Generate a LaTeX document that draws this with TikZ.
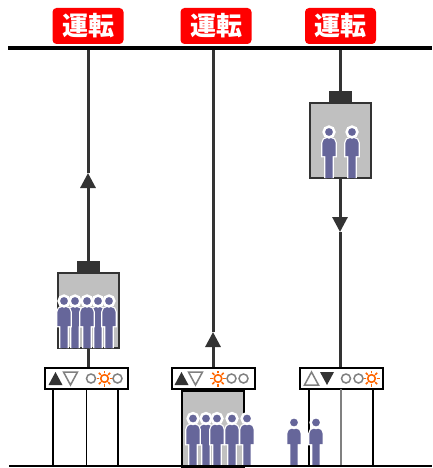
\documentclass[tikz,border=0pt]{standalone}
\usepackage{fontspec}
\newfontfamily\jpfont{Noto Sans CJK JP}
\usetikzlibrary{arrows.meta}
\definecolor{cablegray}{HTML}{333333}
\definecolor{cargray}{HTML}{C0C0C0}
\definecolor{lampgray}{HTML}{808080}
\definecolor{sunorange}{HTML}{FF6600}
\definecolor{manblue}{HTML}{66669A}
\tikzset{
  runlabel/.style = {fill=red,rounded corners=4pt,text=white,inner sep=0pt,
                     minimum width=71pt,minimum height=36pt,
                     font={\jpfont\bfseries\fontsize{26}{30}\selectfont}},
  cable/.style    = {cablegray,line width=3pt},
  dirarr/.style   = {cable,-{Triangle[length=15pt,width=15pt]}},
  car/.style      = {fill=cargray,draw=cablegray,line width=2pt,inner sep=0pt,
                     minimum width=61pt,minimum height=75pt},
  hoist/.style    = {fill=cablegray,inner sep=0pt,minimum width=23pt,minimum height=11pt},
  panelbox/.style = {fill=white,draw=black,line width=2pt,inner sep=0pt,
                     minimum width=83pt,minimum height=21pt},
  dooredge/.style = {black,line width=1.5pt},
  diron/.style    = {fill=cablegray},
  diroff/.style   = {draw=lampgray,line width=1.5pt},
  lampoff/.style  = {draw=lampgray,line width=1.5pt},
  lampon/.style   = {draw=sunorange,line width=1.6pt},
  halo/.style     = {draw=white,line width=2.5pt},
  body/.style     = {fill=manblue}
}
\newcommand{\uptri}[2]{\path[#1] (#2-7,6.5) -- (#2+7,6.5) -- (#2,-6.5) -- cycle;}
\newcommand{\downtri}[2]{\path[#1] (#2-7,-6.5) -- (#2+7,-6.5) -- (#2,6.5) -- cycle;}
\newcommand{\offlamp}[1]{\path[lampoff] (#1,0) circle[radius=4.5];}
\newcommand{\sunlamp}[1]{%
  \path[lampon] (#1,0) circle[radius=3.8];
  \foreach \a in {0,45,...,315} {\path[lampon] (#1,0) ++(\a:5.2) -- ++(\a:2.8);}
}
% one passenger, head centre at (#1,#2), feet #3 below
\newcommand{\person}[3]{%
  \begin{scope}[shift={(#1,#2)}]
    \path[halo] (-3.7,#3) -- (-3.7,#3-22) -- (-6.6,#3-22) -- (-6.6,11)
      arc[start angle=180,end angle=270,radius=5] -- (1.6,6)
      arc[start angle=270,end angle=360,radius=5] -- (6.6,#3-22) -- (3.7,#3-22) -- (3.7,#3);
    \path[body] (-3.7,#3) -- (-3.7,#3-22) -- (-6.6,#3-22) -- (-6.6,11)
      arc[start angle=180,end angle=270,radius=5] -- (1.6,6)
      arc[start angle=270,end angle=360,radius=5] -- (6.6,#3-22) -- (3.7,#3-22) -- (3.7,#3) -- cycle;
    \path[halo,body] (0,0) circle[radius=5.4];
  \end{scope}}

\begin{document}
\begin{tikzpicture}[x=1pt,y=-1pt]
  \useasboundingbox (0,0) rectangle (432,468);

  \node[runlabel] (run1) at (88,26)    {運転};
  \node[runlabel] (run2) at (216,26)   {運転};
  \node[runlabel] (run3) at (340.5,26) {運転};

  \coordinate (top1) at (88,49);
  \coordinate (top2) at (213,49);
  \coordinate (top3) at (340,49);
  \coordinate (dir1) at (88,173);
  \coordinate (dir2) at (213,332);
  \coordinate (dir3) at (340,232);

  % cars and their hoists
  \node[car] (car1) at (88,310.5) {};
  \node[hoist,anchor=south] (hoist1) at (car1.north) {};
  \node[car] (car3) at (340,140.5) {};
  \node[hoist,anchor=south] (hoist3) at (car3.north) {};

  % landing panels
  \node[panelbox] (panel1) at (86,378.5)  {};
  \node[panelbox] (panel2) at (213,378.5) {};
  \node[panelbox] (panel3) at (341,378.5) {};

  % ropes
  \draw[dirarr] (hoist1.north) -- (dir1);
  \draw[cable]  (dir1) -- (top1);
  \draw[cable]  (car1.south) -- (car1.south |- panel1.north);
  \draw[dirarr] (panel2.north) -- (dir2);
  \draw[cable]  (dir2) -- (top2);
  \draw[cable]  (top3) -- (hoist3.north);
  \draw[dirarr] (car3.south) -- (dir3);
  \draw[cable]  (dir3) -- (car3.south |- panel3.north);
  \draw[line width=4pt] (8,48.5) -- (432,48.5);

  \begin{scope}[shift={(panel1.west)}]
    \uptri{diron}{12} \downtri{diroff}{27}
    \offlamp{47.5} \sunlamp{61} \offlamp{74}
  \end{scope}
  \begin{scope}[shift={(panel2.west)}]
    \uptri{diron}{11} \downtri{diroff}{25}
    \sunlamp{47.5} \offlamp{61} \offlamp{73}
  \end{scope}
  \begin{scope}[shift={(panel3.west)}]
    \uptri{diroff}{13} \downtri{diron}{28.5}
    \offlamp{47.5} \offlamp{60} \sunlamp{73}
  \end{scope}

  % landing doors
  \draw[dooredge] (53,389) -- (53,466);
  \draw[black,line width=1pt] (86,389) -- (86,466);
  \draw[dooredge,line width=2pt] (118,389) -- (118,466);
  \draw[dooredge] (309,389) -- (309,466);
  \draw[lampgray,line width=1.2pt] (341,389) -- (341,466);
  \draw[dooredge] (373,389) -- (373,466);
  \node[car,draw=black,minimum width=62pt,minimum height=76pt,anchor=north] (car2) at (panel2.south) {};

  % passengers
  \foreach \x in {75,98,64,87,109} {\person{\x}{301}{47}}
  \foreach \x in {329,352} {\person{\x}{132}{46}}
  \foreach \x in {206,193,217,232,247} {\person{\x}{418.5}{47.5}}
  \foreach \x in {294,316} {\person{\x}{422.5}{43.5}}

  \draw[line width=2pt] (9,466) -- (432,466);
\end{tikzpicture}
\end{document}
